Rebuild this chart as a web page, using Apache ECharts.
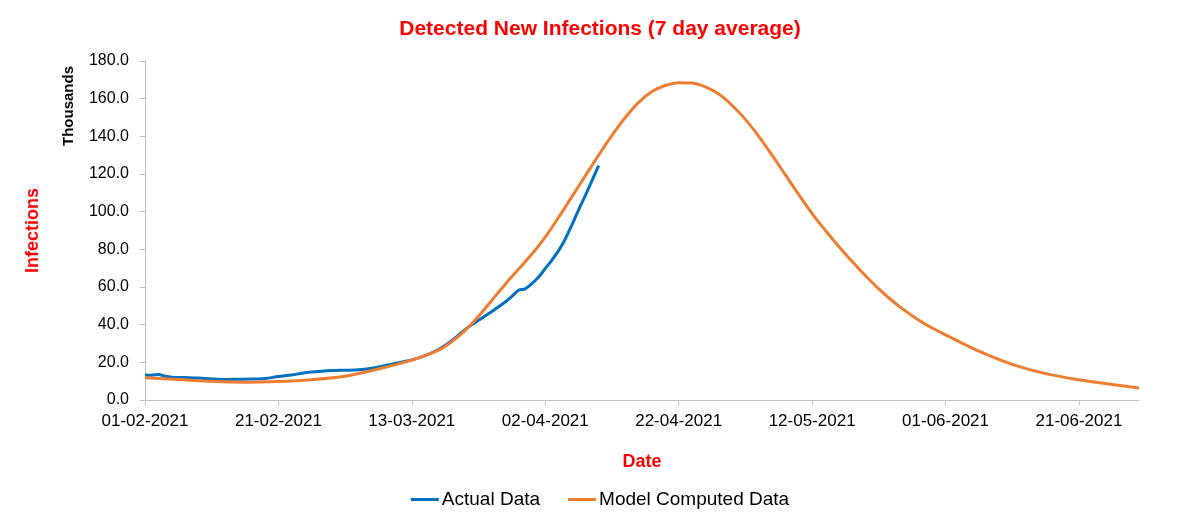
<!DOCTYPE html>
<html>
<head>
<meta charset="utf-8">
<script src="https://cdn.jsdelivr.net/npm/echarts@6/dist/echarts.min.js"></script>
<style>html,body{margin:0;padding:0;background:#fff}#chart{width:1200px;height:527px}</style>
</head>
<body>
<div id="chart"></div>
<script>
// Day offsets from 01-02-2021 and values (thousands)
const startDate = [2021, 2, 1];
const xTickDays = [0, 20, 40, 60, 80, 100, 120, 140];
const yTicks = [0, 20, 40, 60, 80, 100, 120, 140, 160, 180];

const actualDays = [0, 1, 2, 3, 4, 6, 8, 10, 12, 14, 16, 18, 20, 22, 24, 26, 28, 30, 32, 34, 36, 38, 40, 42, 44, 46, 48, 50, 52, 54, 55, 56, 57, 58, 59, 60, 61, 62, 63, 64, 65, 66, 67, 68];
const actualValues = [13.3, 13.2, 13.5, 12.6, 12.1, 11.9, 11.7, 11.2, 10.9, 11.0, 11.1, 11.4, 12.5, 13.3, 14.5, 15.1, 15.6, 15.8, 16.0, 16.9, 18.3, 19.8, 21.3, 23.6, 26.8, 31.5, 37.5, 42.3, 47.0, 52.0, 55.0, 58.3, 59.0, 61.8, 65.3, 69.8, 74.3, 79.3, 85.5, 93.0, 101.0, 108.5, 116.5, 124.5];

const modelDays = [0, 5, 10, 15, 20, 25, 30, 35, 40, 44, 46, 48, 50, 52, 54, 56, 58, 60, 62, 64, 66, 68, 70, 72, 74, 76, 78, 80, 82, 84, 86, 88, 90, 92, 94, 96, 98, 100, 102, 104, 106, 108, 110, 112, 114, 116, 118, 120, 125, 130, 135, 140, 145, 149];
const modelValues = [11.8, 10.9, 9.9, 9.4, 9.8, 10.8, 12.6, 16.5, 21.2, 26.5, 31.0, 37.0, 44.5, 53.0, 61.5, 69.5, 77.5, 86.5, 97.0, 108.0, 119.0, 130.0, 140.5, 150.0, 158.0, 163.8, 167.0, 168.5, 168.3, 166.3, 162.5, 156.5, 149.0, 140.0, 130.0, 119.5, 109.0, 99.0, 90.0, 81.5, 73.5, 66.0, 59.0, 52.7, 47.2, 42.4, 38.2, 34.6, 25.9, 18.9, 14.0, 10.7, 8.2, 6.4];

function dayLabel(d) {
  const dt = new Date(Date.UTC(startDate[0], startDate[1] - 1, startDate[2] + d));
  const dd = String(dt.getUTCDate()).padStart(2, '0');
  const mm = String(dt.getUTCMonth() + 1).padStart(2, '0');
  return dd + '-' + mm + '-' + dt.getUTCFullYear();
}

const FONT = '"Liberation Sans", Arial, sans-serif';
const chart = echarts.init(document.getElementById('chart'), null, {renderer: 'canvas'});
chart.setOption({
  animation: false,
  backgroundColor: '#ffffff',
  title: {
    text: 'Detected New Infections (7 day average)',
    left: 'center', top: 14,
    textStyle: {color: '#ff0000', fontWeight: 'bold', fontSize: 21, fontFamily: FONT}
  },
  grid: {left: 145, right: 61, top: 61, bottom: 127},
  legend: {
    bottom: 13, left: 'center',
    icon: 'rect', itemWidth: 28, itemHeight: 3, itemGap: 28,
    textStyle: {color: '#000', fontSize: 19, fontFamily: FONT, padding: [0, 0, 0, -2]},
    data: ['Actual Data', 'Model Computed Data']
  },
  xAxis: {
    type: 'value', min: 0, max: 149, interval: 20,
    name: 'Date', nameLocation: 'middle', nameGap: 53,
    nameTextStyle: {color: '#ff0000', fontWeight: 'bold', fontSize: 18, fontFamily: FONT},
    axisLine: {show: true, lineStyle: {color: '#bfbfbf', width: 1}},
    axisTick: {show: true, length: 5, lineStyle: {color: '#bfbfbf'}},
    axisLabel: {
      color: '#000', fontSize: 17, fontFamily: FONT, margin: 13,
      showMaxLabel: false,
      formatter: v => xTickDays.includes(v) ? dayLabel(v) : ''
    },
    splitLine: {show: false}
  },
  yAxis: {
    type: 'value', min: yTicks[0], max: yTicks[yTicks.length - 1], interval: 20,
    name: 'Infections', nameLocation: 'middle', nameGap: 103, nameRotate: 90,
    nameTextStyle: {color: '#ff0000', fontWeight: 'bold', fontSize: 18, fontFamily: FONT},
    axisLine: {show: true, lineStyle: {color: '#bfbfbf', width: 1}},
    axisTick: {show: true, length: 5, lineStyle: {color: '#bfbfbf'}},
    axisLabel: {color: '#000', fontSize: 16, fontFamily: FONT, margin: 16, formatter: v => v.toFixed(1)},
    splitLine: {show: false}
  },
  graphic: [{
    type: 'text', left: 61, top: 66, rotation: Math.PI / 2,
    style: {text: 'Thousands', fill: '#000', font: 'bold 15px ' + FONT}
  }],
  series: [
    {
      name: 'Actual Data', type: 'line', smooth: 0.3, showSymbol: false, symbol: 'none',
      color: '#0070c0', lineStyle: {width: 3, color: '#0070c0'}, z: 2,
      data: actualDays.map((d, i) => [d, actualValues[i]])
    },
    {
      name: 'Model Computed Data', type: 'line', smooth: 0.3, showSymbol: false, symbol: 'none',
      color: '#ed7d31', lineStyle: {width: 3, color: '#ed7d31'}, z: 3,
      data: modelDays.map((d, i) => [d, modelValues[i]])
    }
  ]
});
</script>
</body>
</html>
